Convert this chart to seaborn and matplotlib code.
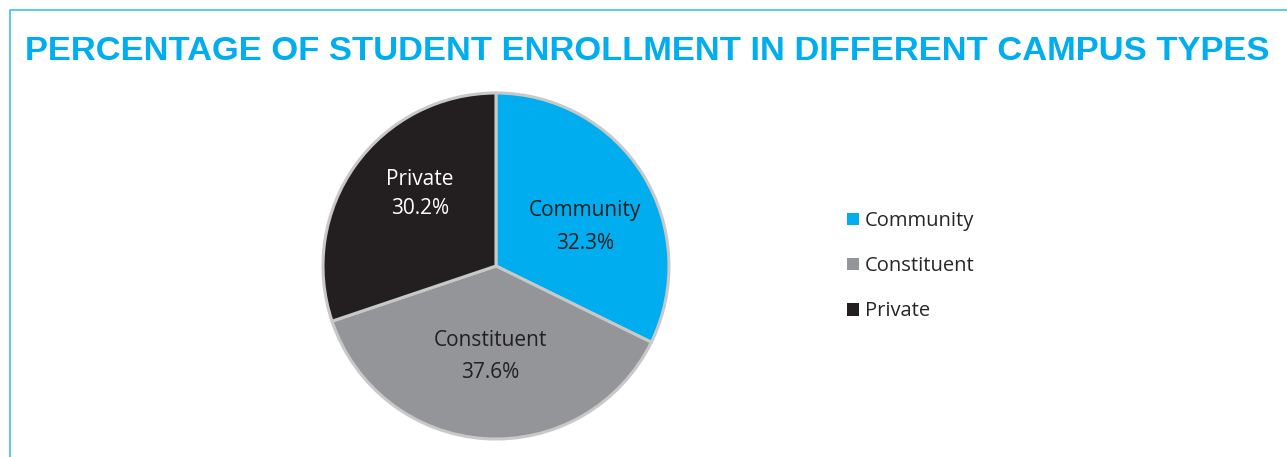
import matplotlib
matplotlib.use("Agg")
import matplotlib.pyplot as plt
import seaborn as sns
import numpy as np
from matplotlib.lines import Line2D

categories = ["Community", "Constituent", "Private"]
values = [32.3, 37.6, 30.2]
value_labels = ["32.3%", "37.6%", "30.2%"]
title_text = "PERCENTAGE OF STUDENT ENROLLMENT IN DIFFERENT CAMPUS TYPES"

colors = ["#00AEEF", "#939598", "#231F20"]
label_colors = ["#231F20", "#231F20", "#FFFFFF"]

sns.set_theme(style="white")
plt.rcParams["font.family"] = ["Open Sans", "DejaVu Sans"]

W, H = 1287, 457
fig = plt.figure(figsize=(W / 100, H / 100), dpi=100)
fig.patch.set_facecolor("white")

cx, cy, r = 496, 266, 173
ax = fig.add_axes([(cx - r) / W, (H - cy - r) / H, 2 * r / W, 2 * r / H])
wedges, _ = ax.pie(values, colors=colors, startangle=90, counterclock=False,
                   radius=1.0,
                   wedgeprops=dict(edgecolor="#C8C8C8", linewidth=2.2))
ax.set_xlim(-1.0, 1.0)
ax.set_ylim(-1.0, 1.0)
ax.set_aspect("equal")
ax.axis("off")

dists = [0.57, 0.51, 0.62]
angle_shift = [-6, 0, -9]
y_shift = [-0.023, -0.012, -0.02]
spacings = [1.75, 1.7, 1.45]
for w, name, vl, d, da, dy, tc, ls in zip(wedges, categories, value_labels, dists, angle_shift,
                                          y_shift, label_colors, spacings):
    ang = np.deg2rad((w.theta1 + w.theta2) / 2 + da)
    ax.text(d * np.cos(ang), d * np.sin(ang) + dy, f"{name}\n{vl}", ha="center", va="center",
            fontsize=15, color=tc, linespacing=ls)

fig.text(647 / W, 1 - 51 / H, title_text, ha="center", va="center",
         fontsize=24.8, fontweight="bold", color="#00AEEF", family="Liberation Sans")

leg = fig.legend(wedges, categories, loc="upper left",
                 bbox_to_anchor=(847 / W, 1 - 211 / H), frameon=False,
                 fontsize=14.5, handlelength=0.6, handleheight=0.6,
                 handletextpad=0.3, labelspacing=1.25, borderpad=0, borderaxespad=0)
for h in leg.legend_handles:
    h.set_edgecolor("none")
    h.set_linewidth(0)

border_c = "#5BC8EE"
fig.add_artist(Line2D([10 / W, 1.0], [1 - 10 / H, 1 - 10 / H], color=border_c, lw=1.4,
                      transform=fig.transFigure))
fig.add_artist(Line2D([10 / W, 10 / W], [0, 1 - 10 / H], color=border_c, lw=1.4,
                      transform=fig.transFigure))

fig.savefig("out.png", dpi=100, facecolor="white")
